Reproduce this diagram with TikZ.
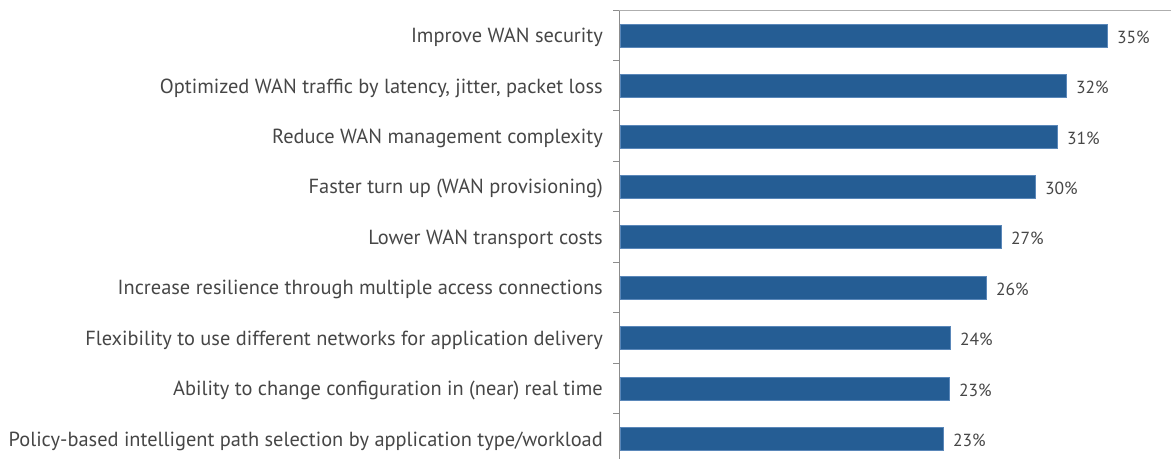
\documentclass[tikz,border=0pt]{standalone}
\usepackage{fontspec}
\setmainfont{PT Sans}
\usetikzlibrary{positioning}
\definecolor{barblue}{RGB}{37,93,148}
\definecolor{barrim}{RGB}{90,135,185}
\definecolor{labelgray}{RGB}{70,70,70}
\definecolor{axisgray}{RGB}{140,140,140}
\tikzset{
  bar/.style={fill=barblue,draw=barrim,line width=0.8pt,inner sep=0pt,minimum height=23pt,anchor=west},
  cat/.style={text=labelgray,font=\fontsize{20.4}{23}\selectfont,inner sep=0pt,anchor=east,yshift=-2pt},
  val/.style={text=labelgray,font=\fontsize{17.5}{20}\selectfont,inner sep=0pt,anchor=west,yshift=-1.5pt},
}
\begin{document}
\begin{tikzpicture}[x=1pt,y=-1pt]
  \useasboundingbox (0,0) rectangle (1171,459);
  % bars, one per answer
  \node[bar,minimum width=487pt] (b1) at (620,35.5) {};
  \node[bar,minimum width=446pt] (b2) at (620,86.0) {};
  \node[bar,minimum width=437pt] (b3) at (620,136.4) {};
  \node[bar,minimum width=415pt] (b4) at (620,186.8) {};
  \node[bar,minimum width=381pt] (b5) at (620,237.3) {};
  \node[bar,minimum width=366pt] (b6) at (620,287.7) {};
  \node[bar,minimum width=330pt] (b7) at (620,338.1) {};
  \node[bar,minimum width=329pt] (b8) at (620,388.6) {};
  \node[bar,minimum width=323pt] (b9) at (620,439.0) {};
  % answers on the left
  \node[cat,left=17pt of b1.west] (c1) {Improve WAN security};
  \node[cat,left=17pt of b2.west] (c2) {Optimized WAN traffic by latency, jitter, packet loss};
  \node[cat,left=17pt of b3.west] (c3) {Reduce WAN management complexity};
  \node[cat,left=17pt of b4.west] (c4) {Faster turn up (WAN provisioning)};
  \node[cat,left=17pt of b5.west] (c5) {Lower WAN transport costs};
  \node[cat,left=17pt of b6.west] (c6) {Increase resilience through multiple access connections};
  \node[cat,left=17pt of b7.west] (c7) {Flexibility to use different networks for application delivery};
  \node[cat,left=17pt of b8.west] (c8) {Ability to change configuration in (near) real time};
  \node[cat,left=17pt of b9.west] (c9) {Policy-based intelligent path selection by application type/workload};
  % percentages
  \node[val,right=9pt of b1.east] (v1) {35\%};
  \node[val,right=9pt of b2.east] (v2) {32\%};
  \node[val,right=9pt of b3.east] (v3) {31\%};
  \node[val,right=9pt of b4.east] (v4) {30\%};
  \node[val,right=9pt of b5.east] (v5) {27\%};
  \node[val,right=9pt of b6.east] (v6) {26\%};
  \node[val,right=9pt of b7.east] (v7) {24\%};
  \node[val,right=9pt of b8.east] (v8) {23\%};
  \node[val,right=9pt of b9.east] (v9) {23\%};
  % axis, ticks and top rule
  \coordinate (top) at (619,10);
  \coordinate (bot) at (619,459);
  \coordinate (corner) at (1171,10);
  \draw[axisgray,line width=1pt] (top) -- (bot);
  \draw[axisgray!70,line width=1pt] (top) -- (corner);
  \foreach \k in {0,...,8}
    \draw[axisgray,line width=1pt] (613,10+50.44*\k) -- (619,10+50.44*\k);
\end{tikzpicture}
\end{document}
